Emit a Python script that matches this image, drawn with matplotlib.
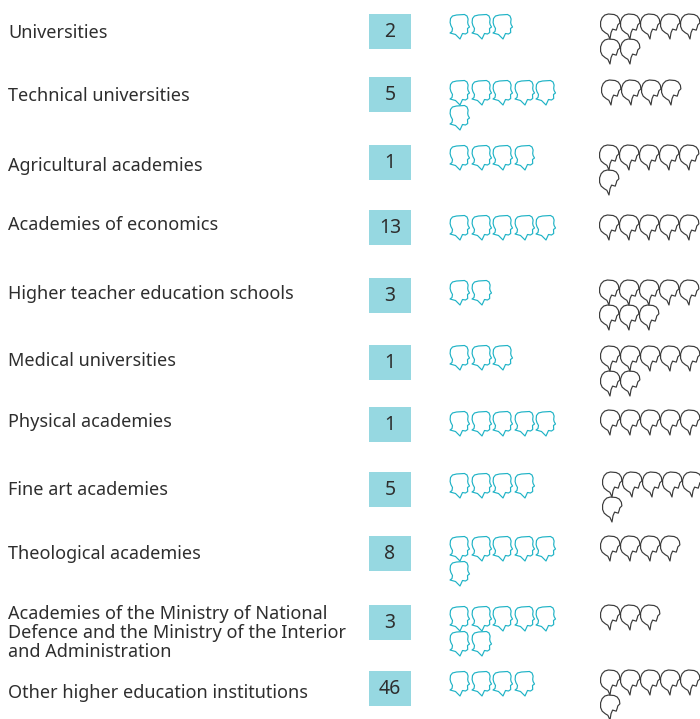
import matplotlib
matplotlib.use('Agg')
import matplotlib.pyplot as plt
from matplotlib.path import Path
from matplotlib.patches import Rectangle

Labels = ['Universities', 'Technical universities', 'Agricultural academies',
          'Academies of economics', 'Higher teacher education schools',
          'Medical universities', 'Physical academies', 'Fine art academies',
          'Theological academies',
          'Academies of the Ministry of National\nDefence and the Ministry of the Interior\nand Administration',
          'Other higher education institutions']
Numbers = [2, 5, 1, 13, 3, 1, 1, 5, 8, 3, 46]
Teal_Heads = [3, 6, 4, 5, 2, 3, 5, 4, 6, 7, 4]
Black_Heads = [7, 4, 6, 5, 8, 7, 5, 6, 4, 3, 6]

# layout, in pixels from the top left
Text_Y = [33, 96, 166, 225, 294, 361, 422, 490, 554, 633, 693]
Box_Y = [31, 94, 162, 227, 295, 362, 424, 489, 553, 622, 688]
Teal_Y = [26, 92, 157, 227, 292, 357, 423, 485, 548, 618, 683]
Black_Y = [26, 92, 157, 227, 292, 358, 422, 484, 548, 617, 682]
Black_X = [610, 611, 609, 609, 609, 610, 610, 612, 610, 610, 610]

TEAL = '#1fb3c6'
DARK = '#3a3a3a'
BOX = '#96d8e1'
TEXT = '#2e2e2e'

# outlines, y up, centred on 0
teal_pts = [(-9.5, -6.5), (-7.5, -5), (-7, -2), (-8.6, 1), (-9.4, 4), (-9, 8), (-7, 10.5), (-3, 11.5),
            (5, 12), (7.5, 10.5), (8.6, 7.5), (8.2, 4), (8.6, 2), (10, -0.5), (8, -2), (8.2, -6),
            (6, -7.5), (3, -7), (0.5, -12.5), (-4, -8), (-9.5, -6.5)]
black_pts = [(-2, 12), (-5.5, 11), (-8, 8.5), (-9.5, 4.5), (-9.5, 0), (-8, -3.5), (-5, -6), (-2.5, -7.5),
             (-0.5, -12), (0.5, -6), (2, -2.5), (5.5, -3.5), (6.5, -0.5), (7, 1.5), (9, 3.5), (8.5, 7),
             (6.5, 10), (3.5, 11.5), (-2, 12)]
Teal_Head = Path(teal_pts, closed=True)
Black_Head = Path(black_pts, closed=True)


def draw_heads(ax, n, x0, y0, step, head, color):
    xs = [x0 + (i % 5) * step for i in range(n)]
    ys = [y0 + (i // 5) * 25 for i in range(n)]
    ax.plot(xs, ys, ls='none', marker=head, ms=18, mfc='none', mec=color, mew=0.85)


fig = plt.figure(figsize=(7, 7.19), dpi=100)
ax = fig.add_axes([0, 0, 1, 1])
ax.set_xlim(0, 700)
ax.set_ylim(719, 0)
ax.axis('off')

for i in range(len(Labels)):
    ax.text(8, Text_Y[i], Labels[i], family='Noto Sans', fontsize=13, color=TEXT,
            va='center', ha='left', linespacing=1.07)
    ax.add_patch(Rectangle((369, Box_Y[i] - 17.5), 42, 35, fc=BOX, ec='none'))
    ax.text(390, Box_Y[i] + 1, str(Numbers[i]), family='Noto Sans', fontsize=14, color=TEXT,
            va='center', ha='center')
    draw_heads(ax, Teal_Heads[i], 459, Teal_Y[i], 21.5, Teal_Head, TEAL)
    draw_heads(ax, Black_Heads[i], Black_X[i], Black_Y[i], 20, Black_Head, DARK)

fig.savefig('out.png', dpi=100)
